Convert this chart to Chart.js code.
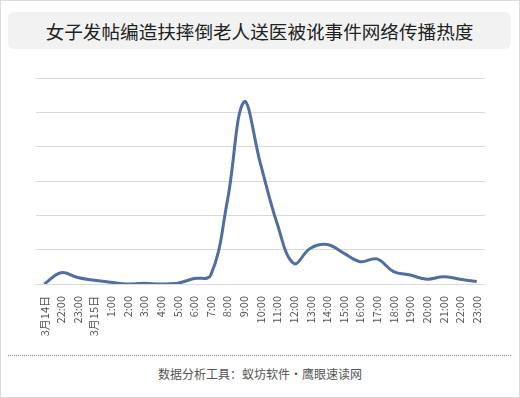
<!DOCTYPE html>
<html>
<head>
<meta charset="utf-8">
<script src="https://cdn.jsdelivr.net/npm/chart.js@4/dist/chart.umd.min.js"></script>
<style>
    html, body { margin: 0; padding: 0; background: #fff; }
    #wrap {
        position: relative;
        width: 518px;
        height: 396px;
        border: 1px solid #dcdcdc;
        font-family: "Noto Sans CJK SC", sans-serif;
    }
    #title {
        position: absolute;
        left: 7px; top: 11px;
        width: 503px; height: 37px;
        background: #f2f2f2;
        border-radius: 6px;
        text-align: center;
        line-height: 37px;
        font-size: 18.6px;
        color: #222;
    }
    #chartBox {
        position: absolute;
        left: -1px; top: 59px;
        width: 520px; height: 290px;
    }
    #sep {
        position: absolute;
        left: 7px; top: 354px;
        width: 503px; height: 0;
        border-top: 1px dotted #888;
    }
    #foot {
        position: absolute;
        left: 0; top: 364px;
        width: 518px;
        text-align: center;
        font-size: 12px;
        color: #555;
        line-height: 18px;
    }
</style>
</head>
<body>
<div id="wrap">
    <div id="title">女子发帖编造扶摔倒老人送医被讹事件网络传播热度</div>
    <div id="chartBox"><canvas id="heatChart" width="520" height="290"></canvas></div>
    <div id="sep"></div>
    <div id="foot">数据分析工具：蚁坊软件・鹰眼速读网</div>
</div>
<script>
// x-axis categories
const labels = ['3月14日', '22:00', '23:00', '3月15日', '1:00', '2:00', '3:00', '4:00', '5:00',
    '6:00', '7:00', '8:00', '9:00', '10:00', '11:00', '12:00', '13:00', '14:00', '15:00',
    '16:00', '17:00', '18:00', '19:00', '20:00', '21:00', '22:00', '23:00'];

// spread heat (no axis values shown)
const heat = [0, 3.3, 1.9, 1.1, 0.5, 0, 0.2, 0, 0.2,
    1.6, 2.5, 24, 53, 35, 17.6, 6.0, 10.4, 11.5, 9.0,
    6.5, 7.3, 3.6, 2.6, 1.4, 2.1, 1.4, 0.7];

const yTicks = [0, 10, 20, 30, 40, 50, 60];

const ctx = document.getElementById('heatChart');

new Chart(ctx, {
    type: 'line',
    data: {
        labels: labels,
        datasets: [{
            data: heat,
            borderColor: '#4f6fa0',
            borderWidth: 3,
            pointRadius: 0,
            fill: false,
            tension: 0.4
        }]
    },
    options: {
        responsive: false,
        animation: false,
        layout: {
            padding: { left: 36, right: 35, top: 18, bottom: 4 }
        },
        plugins: {
            legend: { display: false },
            tooltip: { enabled: false }
        },
        scales: {
            x: {
                offset: true,
                grid: { display: false },
                border: { display: false },
                afterFit: (scale) => { scale.height = 62; },
                ticks: {
                    autoSkip: false,
                    minRotation: 90,
                    maxRotation: 90,
                    padding: 4,
                    color: '#555',
                    font: { family: '"Noto Sans CJK SC"', size: 11 }
                }
            },
            y: {
                min: yTicks[0],
                max: yTicks[yTicks.length - 1],
                afterFit: (scale) => { scale.width = 0; },
                afterBuildTicks: (scale) => {
                    scale.ticks = yTicks.map(v => ({ value: v }));
                },
                ticks: { display: false },
                border: { display: false },
                grid: { color: '#d9d9d9', lineWidth: 1, drawTicks: false }
            }
        }
    }
});
</script>
</body>
</html>
